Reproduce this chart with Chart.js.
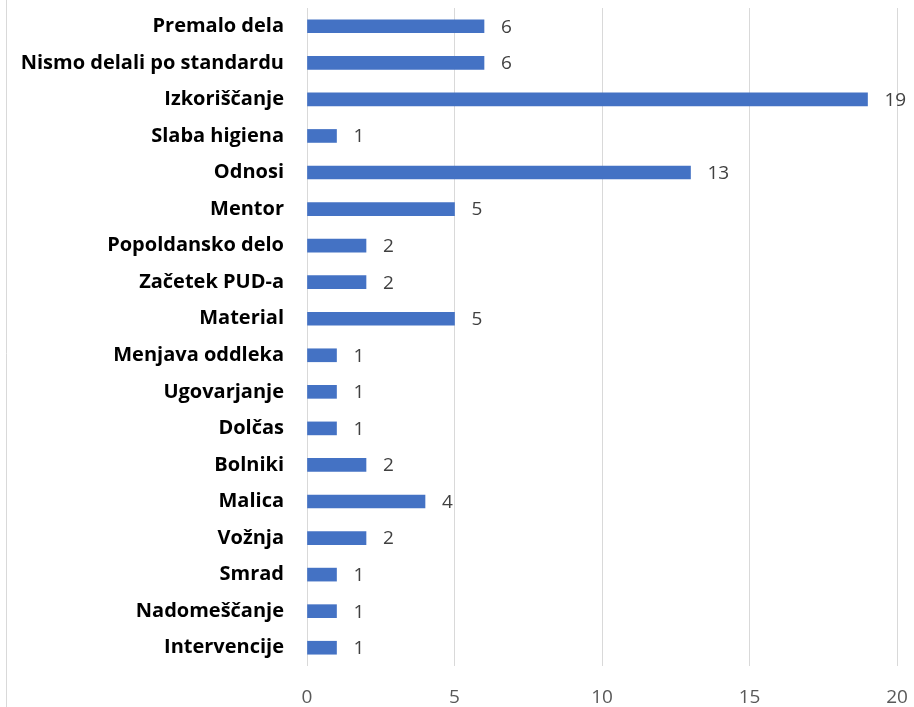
<!DOCTYPE html>
<html>
<head>
<meta charset="utf-8">
<script src="https://cdn.jsdelivr.net/npm/chart.js"></script>
<style>
  html, body { margin: 0; padding: 0; background: #fff; }
  #wrap { position: relative; width: 914px; height: 707px; }
</style>
</head>
<body>
<div id="wrap"><canvas id="chart"></canvas></div>
<script>
const categories = [
  'Premalo dela', 'Nismo delali po standardu', 'Izkoriščanje', 'Slaba higiena',
  'Odnosi', 'Mentor', 'Popoldansko delo', 'Začetek PUD-a', 'Material',
  'Menjava oddleka', 'Ugovarjanje', 'Dolčas', 'Bolniki', 'Malica',
  'Vožnja', 'Smrad', 'Nadomeščanje', 'Intervencije'
];
const counts = [6, 6, 19, 1, 13, 5, 2, 2, 5, 1, 1, 1, 2, 4, 2, 1, 1, 1];
const xTicks = [0, 5, 10, 15, 20];

const FONT = '"Open Sans", "Noto Sans", sans-serif';

// value labels right of each bar
const valueLabels = {
  id: 'valueLabels',
  afterDatasetsDraw(chart) {
    const ctx = chart.ctx;
    const meta = chart.getDatasetMeta(0);
    ctx.save();
    ctx.font = '19px ' + FONT;
    ctx.fillStyle = '#404040';
    ctx.textAlign = 'left';
    ctx.textBaseline = 'middle';
    meta.data.forEach((bar, i) => {
      ctx.fillText(String(counts[i]), bar.x + 17, bar.y + 1);
    });
    ctx.restore();
  }
};

// thin chart frame edge on the left
const frameEdge = {
  id: 'frameEdge',
  beforeDraw(chart) {
    const ctx = chart.ctx;
    ctx.save();
    ctx.strokeStyle = '#d9d9d9';
    ctx.lineWidth = 1;
    ctx.beginPath();
    ctx.moveTo(6.5, 0);
    ctx.lineTo(6.5, chart.height);
    ctx.stroke();
    ctx.restore();
  }
};

new Chart(document.getElementById('chart'), {
  type: 'bar',
  data: {
    labels: categories,
    datasets: [{
      data: counts,
      backgroundColor: '#4472c4',
      barThickness: 13
    }]
  },
  options: {
    indexAxis: 'y',
    responsive: true,
    maintainAspectRatio: false,
    animation: false,
    layout: { padding: { top: 8, right: 17, left: 0, bottom: 0 } },
    plugins: { legend: { display: false }, tooltip: { enabled: false } },
    scales: {
      x: {
        min: 0,
        max: 20,
        afterBuildTicks: s => { s.ticks = xTicks.map(v => ({ value: v })); },
        afterFit: s => { s.height = 41; s.paddingLeft = 0; s.paddingRight = 0; },
        grid: { color: '#d9d9d9', drawTicks: false },
        border: { display: false },
        ticks: { color: '#595959', font: { size: 19, family: FONT }, padding: 20 }
      },
      y: {
        afterFit: s => { s.width = 307; s.paddingTop = 0; s.paddingBottom = 0; },
        grid: { display: false, drawTicks: false },
        border: { display: false },
        ticks: { color: '#000', font: { size: 20, weight: 'bold', family: FONT }, padding: 23, autoSkip: false }
      }
    }
  },
  plugins: [valueLabels, frameEdge]
});
</script>
</body>
</html>
